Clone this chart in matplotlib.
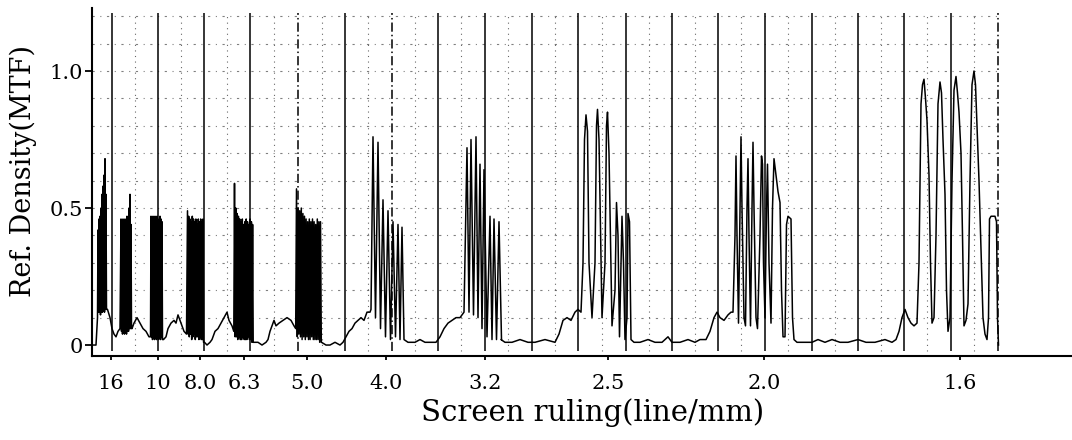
import numpy as np
import matplotlib
matplotlib.use("Agg")
import matplotlib.pyplot as plt

# x positions are in scan units (one unit = one pixel of the chart paper)
tick_pos = [111, 158, 200, 244, 307, 386, 485, 608, 764, 960]
tick_labels = ["16", "10", "8.0", "6.3", "5.0", "4.0", "3.2", "2.5", "2.0", "1.6"]

# chart paper ruling
major_x = [112, 158, 204, 250, 298, 345, 392, 438, 485, 532, 578, 626, 672, 718, 765, 812, 858, 904, 951, 998]
major_dashed = [298, 392, 998]
minor_x = [135, 181, 227, 274, 322, 368, 415, 461, 508, 555, 602, 649, 695, 741, 788, 835, 881, 927, 974]
grid_y = [0.1, 0.2, 0.3, 0.4, 0.5, 0.6, 0.7, 0.8, 0.9, 1.0, 1.1, 1.2]

# dense / sparse line groups: peak position, peak height, valley after peak
g16_x = [98, 99, 100, 101, 102, 103, 104, 105, 106]
g16_h = [0.42, 0.46, 0.47, 0.50, 0.55, 0.58, 0.62, 0.68, 0.55]
g16_v = [0.12, 0.12, 0.11, 0.12, 0.12, 0.13, 0.12, 0.13, 0.13]

g12_x = [121, 122, 123, 124, 125, 126, 127, 128, 129, 130, 131]
g12_h = [0.46, 0.45, 0.46, 0.44, 0.46, 0.45, 0.47, 0.46, 0.50, 0.55, 0.44]
g12_v = [0.05, 0.04, 0.05, 0.04, 0.05, 0.04, 0.05, 0.05, 0.06, 0.06, 0.06]

g10_x = [151, 152, 153, 154, 155, 156, 157, 158, 159, 160, 161, 162]
g10_h = [0.47, 0.46, 0.47, 0.45, 0.47, 0.46, 0.47, 0.45, 0.46, 0.47, 0.46, 0.45]
g10_v = [0.03, 0.02, 0.04, 0.02, 0.03, 0.02, 0.04, 0.02, 0.03, 0.02, 0.03, 0.02]

g8_x = [187.5, 188.7, 189.9, 191.1, 192.3, 193.5, 194.7, 195.9, 197.1, 198.3, 199.5, 200.7, 201.9, 203.0]
g8_h = [0.49, 0.47, 0.46, 0.45, 0.47, 0.46, 0.45, 0.46, 0.44, 0.46, 0.45, 0.46, 0.45, 0.46]
g8_v = [0.04, 0.03, 0.04, 0.02, 0.03, 0.04, 0.02, 0.03, 0.03, 0.02, 0.03, 0.02, 0.02, 0.01]

g63_x = [234.5, 235.8, 237.1, 238.4, 239.7, 241.0, 242.3, 243.6, 244.9, 246.2, 247.5, 248.8, 250.1, 251.4, 252.6]
g63_h = [0.59, 0.50, 0.48, 0.47, 0.46, 0.45, 0.46, 0.44, 0.45, 0.46, 0.45, 0.44, 0.46, 0.45, 0.44]
g63_v = [0.03, 0.03, 0.02, 0.03, 0.02, 0.02, 0.03, 0.02, 0.02, 0.02, 0.03, 0.02, 0.02, 0.01, 0.01]

g5_x = [296.5, 298.1, 299.7, 301.3, 302.9, 304.5, 306.1, 307.7, 309.3, 310.9, 312.5, 314.1, 315.7, 317.3, 318.9, 320.5]
g5_h = [0.57, 0.50, 0.49, 0.50, 0.48, 0.47, 0.46, 0.45, 0.46, 0.45, 0.46, 0.45, 0.44, 0.46, 0.45, 0.45]
g5_v = [0.03, 0.04, 0.03, 0.02, 0.03, 0.02, 0.03, 0.02, 0.02, 0.03, 0.02, 0.02, 0.02, 0.02, 0.01, 0.01]

g4_x = [373, 378, 383, 388, 393, 398, 402]
g4_h = [0.76, 0.74, 0.53, 0.49, 0.45, 0.44, 0.43]
g4_v = [0.10, 0.06, 0.03, 0.02, 0.03, 0.02, 0.02]

g32_x = [467, 471, 476, 480, 484, 490, 494, 499]
g32_h = [0.72, 0.75, 0.76, 0.66, 0.64, 0.47, 0.46, 0.45]
g32_v = [0.12, 0.11, 0.10, 0.06, 0.03, 0.02, 0.02, 0.02]

# broad peaks, read point by point
g25 = [(583, 0.3), (584.5, 0.75), (586, 0.84), (587.5, 0.78), (589, 0.3), (592, 0.10),
       (595, 0.3), (596.5, 0.8), (597.5, 0.86), (599, 0.75), (602, 0.10),
       (605, 0.3), (606.5, 0.8), (607.5, 0.85), (609, 0.7), (612, 0.07),
       (615, 0.2), (616.5, 0.52), (618, 0.4), (619.5, 0.03),
       (621, 0.3), (622, 0.47), (623.5, 0.3), (625, 0.02),
       (627, 0.1), (628, 0.48), (629.5, 0.45), (631, 0.02)]
g20 = [(735, 0.4), (736, 0.69), (737, 0.4), (738.5, 0.08),
       (740, 0.5), (741, 0.76), (742, 0.5), (744, 0.10), (745.5, 0.07),
       (747, 0.5), (748, 0.68), (749, 0.4), (750.5, 0.07),
       (752, 0.5), (753, 0.74), (754, 0.5), (756, 0.10), (757.5, 0.06),
       (760, 0.4), (761.5, 0.69), (762.5, 0.66), (763.5, 0.3), (765, 0.10),
       (766.5, 0.5), (767.5, 0.66), (769, 0.3), (771, 0.08),
       (772.5, 0.5), (774, 0.68), (776, 0.62), (778, 0.56), (780, 0.52), (781.5, 0.2), (783, 0.03),
       (785, 0.03), (786.5, 0.44), (788, 0.47), (791, 0.46), (792.5, 0.1), (794, 0.02)]
g16_ = [(919, 0.3), (921, 0.88), (922.5, 0.95), (924, 0.97), (925.5, 0.9), (927, 0.82), (929, 0.62), (930.5, 0.3), (932, 0.08),
        (934, 0.1), (936, 0.4), (938, 0.88), (940, 0.96), (941.5, 0.92), (943, 0.75), (945, 0.55), (946.5, 0.2), (948, 0.05),
        (950, 0.1), (952, 0.6), (954, 0.93), (956, 0.98), (957.5, 0.92), (959, 0.85), (961, 0.7), (962.5, 0.4), (964, 0.07),
        (966, 0.09), (968, 0.15), (970, 0.6), (972, 0.95), (974, 1.0), (975.5, 0.95), (977, 0.8), (979, 0.6), (981, 0.35),
        (983, 0.1), (985, 0.04), (987, 0.02), (988.5, 0.1), (989.5, 0.46), (991, 0.47), (995, 0.47), (996.5, 0.45),
        (997.5, 0.1), (998.5, 0.0)]

# background between the groups
lead = [(93, 0.0), (96, 0.0), (97.5, 0.1)]
after16 = [(107.5, 0.13), (110, 0.1), (112, 0.06), (114, 0.04), (116, 0.03), (118, 0.05), (120, 0.06)]
after12 = [(132, 0.06), (134, 0.08), (137, 0.10), (140, 0.08), (143, 0.06), (146, 0.05), (149, 0.03), (150.5, 0.03)]
after10 = [(163.5, 0.02), (166, 0.03), (168, 0.06), (171, 0.08), (174, 0.09), (176, 0.08), (178, 0.11),
           (181, 0.08), (184, 0.05), (186.5, 0.04)]
after8 = [(204.5, 0.01), (207, 0.0), (210, 0.01), (212, 0.02), (215, 0.05), (218, 0.06), (221, 0.08),
          (224, 0.10), (227, 0.12), (229, 0.09), (232, 0.07), (233.8, 0.05)]
after63 = [(253.5, 0.01), (258, 0.01), (262, 0.0), (266, 0.01), (268, 0.02), (270, 0.05), (272, 0.07),
           (274, 0.09), (276, 0.07), (279, 0.08), (283, 0.09), (287, 0.10), (291, 0.09), (294, 0.07), (295.7, 0.06)]
after5 = [(321.5, 0.01), (326, 0.0), (330, 0.0), (335, 0.01), (340, 0.0), (343, 0.01), (346, 0.03),
          (349, 0.05), (352, 0.06), (355, 0.08), (358, 0.09), (361, 0.10), (364, 0.09), (367, 0.12),
          (370, 0.12), (371, 0.13)]
after4 = [(404, 0.02), (408, 0.01), (415, 0.01), (420, 0.02), (425, 0.01), (431, 0.01), (436, 0.01),
          (440, 0.03), (444, 0.06), (448, 0.08), (452, 0.09), (456, 0.10), (460, 0.10), (464, 0.12)]
after32 = [(501, 0.02), (505, 0.01), (512, 0.01), (520, 0.02), (528, 0.01), (535, 0.01), (545, 0.02),
           (555, 0.01), (559, 0.04), (563, 0.09), (567, 0.10), (571, 0.09), (575, 0.12), (578, 0.13), (581, 0.12)]
after25 = [(634, 0.01), (640, 0.01), (648, 0.02), (655, 0.01), (662, 0.01), (668, 0.03), (672, 0.01),
           (680, 0.01), (688, 0.02), (695, 0.01), (700, 0.02), (706, 0.02), (710, 0.05), (714, 0.10),
           (717, 0.12), (720, 0.10), (724, 0.09), (728, 0.11), (731, 0.12), (733, 0.12)]
after20 = [(797, 0.01), (805, 0.01), (812, 0.01), (818, 0.02), (825, 0.01), (832, 0.02), (840, 0.01),
           (848, 0.01), (858, 0.02), (866, 0.01), (875, 0.01), (885, 0.02), (892, 0.01), (896, 0.02),
           (899, 0.05), (902, 0.10), (905, 0.13), (908, 0.10), (911, 0.08), (914, 0.07), (917, 0.08)]


def teeth(px, ph, pv):
    pts = []
    for i in range(len(px)):
        if i + 1 < len(px):
            nxt = px[i + 1]
        else:
            nxt = px[i] + (px[i] - px[i - 1])
        pts.append((px[i], ph[i]))
        pts.append(((px[i] + nxt) / 2, pv[i]))
    return pts


trace = (lead + teeth(g16_x, g16_h, g16_v) + after16 + teeth(g12_x, g12_h, g12_v) + after12
         + teeth(g10_x, g10_h, g10_v) + after10 + teeth(g8_x, g8_h, g8_v) + after8
         + teeth(g63_x, g63_h, g63_v) + after63 + teeth(g5_x, g5_h, g5_v) + after5
         + teeth(g4_x, g4_h, g4_v) + after4 + teeth(g32_x, g32_h, g32_v) + after32
         + g25 + after25 + g20 + after20 + g16_)
tx = np.array([p[0] for p in trace])
ty = np.array([p[1] for p in trace])

fig = plt.figure(figsize=(10.72, 4.4), dpi=100)
ax = fig.add_axes([92 / 1072, 1 - 356 / 440, 980 / 1072, 348 / 440])
ax.set_xlim(92, 1072)
ax.set_ylim(-0.04, 1.23)

# paper ruling (faint, broken like the scan)
for y in grid_y:
    ax.hlines(y, 92, 1000, colors="black", linewidth=0.8, linestyles=(0, (2, 5, 1, 5)), alpha=0.5)
for x in minor_x:
    ax.vlines(x, -0.02, 1.21, colors="black", linewidth=0.8, linestyles=(0, (1, 4)), alpha=0.6)
for x in major_x:
    ls = (0, (6, 2, 1, 2)) if x in major_dashed else "-"
    ax.vlines(x, -0.02, 1.21, colors="black", linewidth=1.1, linestyles=ls)

ax.plot(tx, ty, color="black", linewidth=1.1)

for s in ["top", "right"]:
    ax.spines[s].set_visible(False)
for s in ["left", "bottom"]:
    ax.spines[s].set_linewidth(1.5)

ax.set_yticks([0, 0.5, 1.0])
ax.set_yticklabels(["0", "0.5", "1.0"], family="DejaVu Serif", fontsize=15)
ax.set_xticks(tick_pos)
ax.set_xticklabels(tick_labels, family="DejaVu Serif", fontsize=15)
ax.tick_params(axis="y", length=5, width=1.3, pad=1.5)
ax.tick_params(axis="x", length=3, width=1.3, pad=10)

fig.text(23 / 1072, 1 - 171 / 440, "Ref. Density(MTF)", rotation=90, ha="center", va="center",
         family="DejaVu Serif", fontsize=19.5)
fig.text(593 / 1072, 1 - 413 / 440, "Screen ruling(line/mm)", ha="center", va="center",
         family="DejaVu Serif", fontsize=21)

fig.savefig("out.png", dpi=100)
